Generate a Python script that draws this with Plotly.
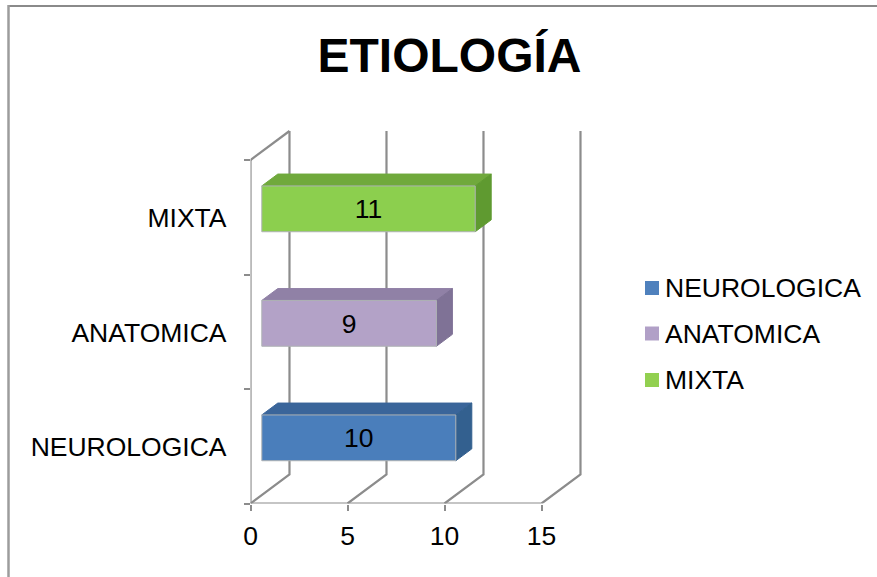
import plotly.graph_objects as go

categories = ["NEUROLOGICA", "ANATOMICA", "MIXTA"]
values = [10, 9, 11]
x_ticks = [0, 5, 10, 15]
front_colors = ["#4a7ebb", "#b3a2c7", "#8ccf4e"]
top_colors = ["#3a659a", "#9081a6", "#70a93c"]
side_colors = ["#33608f", "#7f7296", "#5f9a30"]
legend_colors = ["#4f81bd", "#b1a0c7", "#92d050"]

W, H = 877, 577
FONT = "Liberation Sans"
GRID = "#8c8c8c"
TEXT_SIZE = 26.5

# Oblique projection: depth 0 is the front of the box, depth 1 the back wall.
DX = 2.01
DY = 0.2533
BAR_FRONT = 0.29
BAR_BACK = 0.70
BAR_LOW = 0.30
BAR_HIGH = 0.70


def project(v, c, d):
    return v + DX * d, c + DY * d


def poly(points):
    xs, ys = zip(*[project(*p) for p in points])
    return list(xs) + [xs[0]], list(ys) + [ys[0]]


fig = go.Figure()


def add_line(points, width=2.2):
    xs, ys = zip(*[project(*p) for p in points])
    fig.add_trace(go.Scatter(x=xs, y=ys, mode="lines", showlegend=False, hoverinfo="skip",
                             line=dict(color=GRID, width=width), cliponaxis=False))


n = len(categories)
# Floor diagonals and back-wall verticals
for t in x_ticks:
    add_line([(t, 0, 0), (t, 0, 1), (t, n, 1)])
# Side wall top edge and front axes
add_line([(0, n, 0), (0, n, 1)])
add_line([(x_ticks[0], 0, 0), (x_ticks[-1], 0, 0)])
add_line([(0, 0, 0), (0, n, 0)])

# Bars as three visible faces of a box; only the front face carries a pale edge
for i, v in enumerate(values):
    lo, hi = i + BAR_LOW, i + BAR_HIGH
    faces = [
        ([(0, hi, BAR_FRONT), (v, hi, BAR_FRONT), (v, hi, BAR_BACK), (0, hi, BAR_BACK)],
         top_colors[i], top_colors[i]),
        ([(v, lo, BAR_FRONT), (v, lo, BAR_BACK), (v, hi, BAR_BACK), (v, hi, BAR_FRONT)],
         side_colors[i], side_colors[i]),
        ([(0, lo, BAR_FRONT), (v, lo, BAR_FRONT), (v, hi, BAR_FRONT), (0, hi, BAR_FRONT)],
         front_colors[i], "#aeb2b4"),
    ]
    for pts, col, edge in faces:
        xs, ys = poly(pts)
        fig.add_trace(go.Scatter(x=xs, y=ys, mode="lines", fill="toself", fillcolor=col,
                                 line=dict(color=edge, width=1), showlegend=False,
                                 hoverinfo="skip"))

# Value labels centred on the front faces
lx, ly = zip(*[project(v / 2, i + 0.475, BAR_FRONT) for i, v in enumerate(values)])
fig.add_trace(go.Scatter(x=lx, y=ly, mode="text", text=[str(v) for v in values],
                         textposition="middle center", showlegend=False, hoverinfo="skip",
                         textfont=dict(family=FONT, size=TEXT_SIZE, color="black")))

# Legend rows: swatch plus label, placed in paper space
shapes = []
annotations = []
ROW_Y = [288, 333.5, 380]
for name, col, y in zip(categories, legend_colors, ROW_Y):
    shapes.append(dict(type="rect", xref="paper", yref="paper", line=dict(width=0), fillcolor=col,
                       x0=645 / W, x1=659 / W, y0=1 - (y + 7) / H, y1=1 - (y - 7) / H))
    annotations.append(dict(text=name, xref="paper", yref="paper", x=665 / W, y=1 - y / H,
                            xanchor="left", yanchor="middle", showarrow=False, xshift=-2,
                            font=dict(family=FONT, size=TEXT_SIZE, color="black")))

# Chart frame: only the top and left edges fall inside the page
shapes.append(dict(type="line", xref="paper", yref="paper", x0=8.5 / W, x1=1,
                   y0=1 - 6 / H, y1=1 - 6 / H, line=dict(color="#8a8a8a", width=2)))
shapes.append(dict(type="line", xref="paper", yref="paper", x0=8.5 / W, x1=8.5 / W,
                   y0=0, y1=1 - 5 / H, line=dict(color="#9c9c9c", width=2.5)))

fig.update_layout(
    width=W, height=H, autosize=False,
    margin=dict(l=0, r=0, t=0, b=0),
    paper_bgcolor="white", plot_bgcolor="rgba(0,0,0,0)",
    showlegend=False,
    font=dict(family=FONT, color="black"),
    title=dict(text="<b>ETIOLOGÍA</b>", x=449.5 / W, xanchor="center", y=1 - 55 / H, yanchor="middle",
               font=dict(family=FONT, size=48, color="black")),
    xaxis=dict(domain=[250.5 / W, 585 / W], range=[0, (585 - 250.5) / 19.4], tickmode="array",
               tickvals=x_ticks, ticks="outside", ticklen=6, tickcolor=GRID, tickwidth=2,
               showgrid=False, zeroline=False, showline=False, automargin=False,
               tickfont=dict(family=FONT, size=TEXT_SIZE), ticklabelstandoff=3),
    yaxis=dict(domain=[(H - 503.5) / H, (H - 125) / H], range=[0, (503.5 - 125) / 114.5],
               tickmode="array", tickvals=[i + 0.495 for i in range(n)], ticktext=categories,
               ticks="", showgrid=False, zeroline=False, showline=False, automargin=False,
               tickfont=dict(family=FONT, size=TEXT_SIZE), ticklabelstandoff=23,
               minor=dict(tickmode="array", tickvals=list(range(n + 1)), ticks="outside",
                          ticklen=6, tickcolor=GRID, tickwidth=2, showgrid=False)),
    shapes=shapes,
    annotations=annotations,
)

fig.write_html("out.html", config=dict(displayModeBar=False))
